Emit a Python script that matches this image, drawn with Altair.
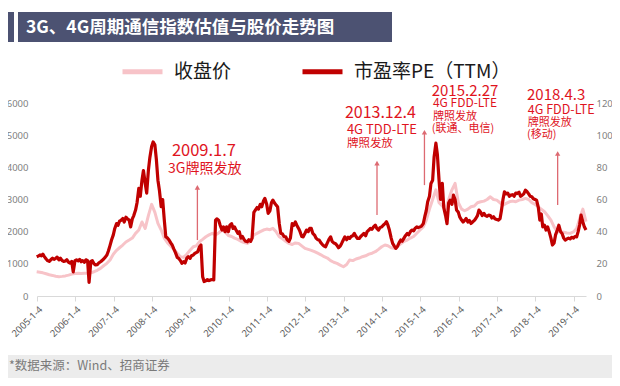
import altair as alt
import pandas as pd

# ---------------- data ----------------
# close price of the telecom index (left axis), monthly, 1st of month
price_2005 = [755, 740, 720, 690, 660, 640, 615, 600, 610, 625, 650, 680]
price_2006 = [700, 705, 700, 710, 705, 720, 755, 800, 860, 940, 1015, 1120]
price_2007 = [1300, 1420, 1500, 1584, 1680, 1739, 1800, 1947, 2050, 2300, 2100, 2500]
price_2008 = [2850, 2600, 2258, 2050, 1800, 1650, 1550, 1450, 1330, 1220, 1200, 1300]
price_2009 = [1420, 1531, 1560, 1687, 1760, 1841, 1900, 1947, 1900, 1960, 2050, 1990]
price_2010 = [1880, 1850, 1800, 1760, 1700, 1660, 1636, 1700, 1900, 1947, 2000, 2050]
price_2011 = [2080, 2060, 2102, 2000, 1841, 1780, 1700, 1636, 1600, 1650, 1636, 1560]
price_2012 = [1481, 1450, 1420, 1377, 1330, 1280, 1221, 1180, 1100, 1050, 1015, 960]
price_2013 = [910, 980, 1118, 1100, 1150, 1180, 1221, 1250, 1300, 1330, 1377, 1450]
price_2014 = [1530, 1584, 1560, 1500, 1480, 1550, 1620, 1700, 1739, 1800, 1850, 1950]
price_2015 = [2050, 2150, 2350, 2700, 3000, 3300, 2900, 2800, 2700, 3000, 3300, 3500]
price_2016 = [2900, 2700, 2650, 2700, 2773, 2800, 2900, 2929, 2950, 3000, 3085, 3000]
price_2017 = [2980, 2900, 2826, 2880, 2929, 2950, 2929, 2980, 3000, 3034, 3000, 2900]
price_2018 = [2850, 2773, 2700, 2618, 2500, 2360, 2150, 1997, 2000, 1980, 1960, 1947]
price_2019 = [1990, 2100, 2400, 2700, 2309]

# PE (TTM) (right axis), twice a month: 1st and 15th
pe_2005 = [24.4, 24.8, 25.5, 25.0, 26.0, 24.5, 23.0, 22.0, 21.5, 22.5, 23.5, 22.8,
           23.4, 24.2, 22.5, 23.5, 22.0, 21.5, 21.8, 22.5, 21.0, 20.5, 21.5, 15.0]
pe_2006 = [22.0, 22.5, 21.8, 22.8, 21.3, 22.0, 21.0, 22.5, 22.0, 8.5, 21.5, 22.0,
           20.0, 19.3, 19.5, 20.5, 21.3, 22.0, 23.0, 24.0, 25.5, 28.0, 31.5, 34.8]
pe_2007 = [38.0, 42.0, 45.0, 44.0, 46.5, 47.0, 48.2, 46.0, 49.0, 48.0, 47.2, 43.0,
           48.0, 50.0, 53.4, 58.0, 67.0, 62.0, 72.0, 78.0, 70.0, 64.0, 78.0, 86.0]
pe_2008 = [93.0, 95.8, 94.0, 85.0, 72.0, 65.8, 55.5, 60.0, 47.0, 36.8, 36.0, 34.8,
           33.0, 31.7, 29.0, 27.0, 24.0, 23.4, 22.0, 20.3, 21.3, 20.5, 23.5, 24.4]
pe_2009 = [23.4, 25.0, 25.5, 26.5, 27.0, 27.5, 30.6, 31.7, 12.0, 9.0, 9.5, 10.2,
           9.6, 10.0, 10.3, 10.0, 47.2, 48.0, 47.0, 44.0, 41.0, 43.0, 40.0, 43.0]
pe_2010 = [40.0, 44.0, 45.0, 42.0, 43.0, 41.0, 39.0, 40.0, 36.0, 37.0, 35.0, 34.0,
           33.7, 35.0, 34.0, 36.0, 52.0, 53.4, 55.0, 54.0, 57.0, 55.5, 59.0, 60.7]
pe_2011 = [57.0, 51.4, 53.0, 58.0, 59.6, 58.0, 56.5, 55.5, 45.0, 39.0, 38.5, 37.0,
           36.8, 35.0, 34.0, 36.0, 45.0, 44.0, 46.0, 44.0, 42.0, 40.0, 37.0, 36.8]
pe_2012 = [39.0, 41.0, 40.0, 42.0, 42.0, 39.0, 37.9, 36.0, 35.0, 34.8, 33.0, 32.0,
           31.0, 30.6, 33.0, 35.0, 36.8, 34.0, 33.0, 32.7, 31.5, 30.0, 31.0, 32.7]
pe_2013 = [35.0, 36.8, 35.0, 36.5, 35.8, 37.0, 37.5, 38.9, 37.0, 35.8, 35.8, 37.0,
           38.0, 38.9, 37.5, 40.0, 41.0, 42.0, 41.5, 43.0, 44.1, 42.0, 41.0, 42.5]
pe_2014 = [43.0, 44.0, 45.0, 46.2, 44.0, 41.0, 36.0, 32.7, 31.0, 29.6, 31.0, 33.0,
           34.8, 34.0, 36.0, 37.5, 38.9, 38.0, 40.0, 41.0, 40.5, 42.0, 43.0, 42.5]
pe_2015 = [43.0, 43.5, 45.0, 49.3, 53.0, 58.6, 62.0, 70.0, 72.0, 86.5, 95.0, 88.0,
           72.0, 60.0, 70.0, 55.0, 50.0, 45.0, 58.0, 59.6, 57.0, 62.7, 60.0, 53.4]
pe_2016 = [52.0, 49.0, 47.2, 46.0, 47.0, 48.2, 46.0, 47.0, 45.1, 46.0, 47.0, 48.2,
           50.0, 53.4, 52.0, 50.0, 51.4, 50.0, 49.5, 50.3, 50.0, 48.5, 49.3, 48.0]
pe_2017 = [47.5, 47.2, 48.0, 53.4, 60.0, 64.8, 63.5, 64.0, 62.0, 62.7, 63.0, 62.0,
           64.0, 63.7, 64.5, 62.0, 62.7, 63.5, 65.8, 65.0, 63.5, 62.0, 61.7, 60.5]
pe_2018 = [60.0, 59.6, 55.0, 47.2, 51.0, 43.0, 44.0, 41.0, 43.0, 40.0, 36.0, 31.7,
           33.0, 38.0, 41.0, 44.0, 40.0, 38.9, 36.0, 34.8, 35.5, 36.0, 35.5, 36.5]
pe_2019 = [36.0, 37.0, 36.8, 40.0, 44.1, 50.3, 46.0, 43.0, 41.0]

# annotations (arrow position, arrow base / tip on left scale)
arrow_dates = ["2009-03-12", "2013-11-17", "2015-02-12", "2018-08-04"]
arrow_base = [1739, 2516, 3447, 2826]
arrow_tip = [3376, 4130, 5093, 4431]

note_texts = ["2009.1.7", "3G牌照发放",
              "2013.12.4", "4G TDD-LTE", "牌照发放",
              "2015.2.27", "4G FDD-LTE", "牌照发放", "(联通、电信)",
              "2018.4.3", "4G FDD-LTE", "牌照发放", "(移动)"]
note_dates = ["2008-07-12", "2008-06-05",
              "2013-01-15", "2013-02-03", "2013-02-03",
              "2015-04-22", "2015-05-04", "2015-05-04", "2015-04-22",
              "2017-10-16", "2017-10-24", "2017-10-24", "2017-10-16"]
note_values = [4503, 3944, 5683, 5155, 4720, 6366, 5994, 5559, 5186, 6242, 5776, 5373, 5000]
note_sizes = [16.5, 14, 16, 13, 11.5, 15, 12, 11, 11, 15, 12.5, 11, 11]

series_names = ["收盘价", "市盈率PE（TTM）"]
title_text = "3G、4G周期通信指数估值与股价走势图"
source_text = "*数据来源：Wind、招商证券"

# ---------------- tables ----------------
price_values = (price_2005 + price_2006 + price_2007 + price_2008 + price_2009 + price_2010
                + price_2011 + price_2012 + price_2013 + price_2014 + price_2015 + price_2016
                + price_2017 + price_2018 + price_2019)
pe_values = (pe_2005 + pe_2006 + pe_2007 + pe_2008 + pe_2009 + pe_2010 + pe_2011 + pe_2012
             + pe_2013 + pe_2014 + pe_2015 + pe_2016 + pe_2017 + pe_2018 + pe_2019)

price_dates = []
pe_dates = []
for y in range(2005, 2020):
    for m in range(1, 13):
        if y == 2019 and m > 5:
            break
        price_dates.append(f"{y}-{m:02d}-01")
        pe_dates.append(f"{y}-{m:02d}-01")
        if not (y == 2019 and m == 5):
            pe_dates.append(f"{y}-{m:02d}-15")

assert len(price_dates) == len(price_values), (len(price_dates), len(price_values))
assert len(pe_dates) == len(pe_values), (len(pe_dates), len(pe_values))

price_df = pd.DataFrame({"date": price_dates, "v": price_values, "s": series_names[0]})
pe_df = pd.DataFrame({"date": pe_dates, "v": pe_values, "s": series_names[1]})
arrow_df = pd.DataFrame({"date": arrow_dates, "base": arrow_base, "tip": arrow_tip})
note_df = pd.DataFrame({"date": note_dates, "v": note_values, "t": note_texts, "fs": note_sizes})
one = pd.DataFrame({"k": [0]})

# ---------------- encodings ----------------
FONT = "Noto Sans CJK SC"
x_scale = alt.Scale(domain=[alt.DateTime(year=2005, month=1, date=4),
                            alt.DateTime(year=2019, month=5, date=1)], nice=False)
x_axis = alt.Axis(values=[alt.DateTime(year=y, month=1, date=4) for y in range(2005, 2020)],
                  labelExpr="timeFormat(datum.value, '%Y') + '-1-4'",
                  labelAngle=-45, labelFontSize=9.5, labelColor="#595959", labelFont="Noto Sans",
                  domainColor="#d9d9d9", tickColor="#d9d9d9", tickSize=5, labelPadding=3,
                  grid=False, title=None)


def xenc(field="date"):
    return alt.X(f"{field}:T", scale=x_scale, axis=x_axis)


left_scale = alt.Scale(domain=[0, 6000], nice=False)
right_scale = alt.Scale(domain=[0, 120], nice=False)
color = alt.Color("s:N", scale=alt.Scale(domain=series_names, range=["#f7c3c8", "#c00000"]),
                  legend=alt.Legend(orient="none", legendX=83, legendY=-54, direction="horizontal",
                                    title=None, symbolType="stroke", symbolStrokeWidth=5,
                                    symbolSize=1600, labelFontSize=19, labelFont=FONT,
                                    labelColor="#1a1a1a", labelOffset=9, columnPadding=60,
                                    padding=0))

# ---------------- decorations ----------------
footer_band = alt.Chart(one).mark_rect(color="#ececec").encode(
    x=alt.value(-29), x2=alt.value(580), y=alt.value(252), y2=alt.value(290))
footer_text = alt.Chart(one).mark_text(align="left", baseline="middle", font=FONT, fontSize=12.5,
                                       color="#7a7a7a", text=source_text).encode(
    x=alt.value(-28), y=alt.value(263))
title_strip = alt.Chart(one).mark_rect(color="#4c5272").encode(
    x=alt.value(-29), x2=alt.value(-23), y=alt.value(-91), y2=alt.value(-61))
title_bar = alt.Chart(one).mark_rect(color="#4c5272").encode(
    x=alt.value(-19), x2=alt.value(355), y=alt.value(-91), y2=alt.value(-61))
title_mark = alt.Chart(one).mark_text(align="left", baseline="middle", font=FONT, fontSize=17.5,
                                      fontWeight="bold", color="white", text=title_text).encode(
    x=alt.value(-11), y=alt.value(-75))

# ---------------- series ----------------
price_line = alt.Chart(price_df).mark_line(strokeWidth=3, strokeJoin="round").encode(
    x=xenc(),
    y=alt.Y("v:Q", scale=left_scale,
            axis=alt.Axis(orient="left", values=list(range(0, 6001, 1000)), format="d",
                          domain=False, ticks=False, grid=False, labelPadding=9,
                          labelColor="#7f7f7f", labelFontSize=9.5, labelFont="Noto Sans",
                          title=None)),
    color=color)

pe_line = alt.Chart(pe_df).mark_line(strokeWidth=3.2, strokeJoin="round").encode(
    x=xenc(),
    y=alt.Y("v:Q", scale=right_scale,
            axis=alt.Axis(orient="right", values=list(range(0, 121, 20)), format="d",
                          domain=False, ticks=False, grid=False, labelPadding=10,
                          labelColor="#7f7f7f", labelFontSize=9.5, labelFont="Noto Sans",
                          title=None)),
    color=color)

arrow_shaft = alt.Chart(arrow_df).mark_rule(color="#dd6a72", strokeWidth=1.3).encode(
    x=xenc(),
    y=alt.Y("base:Q", scale=left_scale, axis=None),
    y2="tip:Q")
arrow_head = alt.Chart(arrow_df).mark_point(shape="triangle-up", filled=True, color="#dd6a72",
                                            size=28, opacity=1).encode(
    x=xenc(),
    y=alt.Y("tip:Q", scale=left_scale, axis=None))

notes = alt.Chart(note_df).mark_text(align="left", baseline="middle", font=FONT,
                                     color="#e0141e").encode(
    x=xenc(),
    y=alt.Y("v:Q", scale=left_scale, axis=None),
    text="t:N",
    size=alt.Size("fs:Q", scale=None, legend=None))

chart = alt.layer(
    footer_band, footer_text, title_strip, title_bar, title_mark,
    price_line, pe_line, arrow_shaft, arrow_head, notes
).resolve_scale(
    y="independent"
).properties(
    width=549, height=193,
    autosize=alt.AutoSizeParams(type="none"),
    padding={"left": 29, "top": 95, "right": 26, "bottom": 82},
    background="white",
).configure_view(stroke=None)

chart.save("out.html", embed_options={"renderer": "svg", "actions": False})
